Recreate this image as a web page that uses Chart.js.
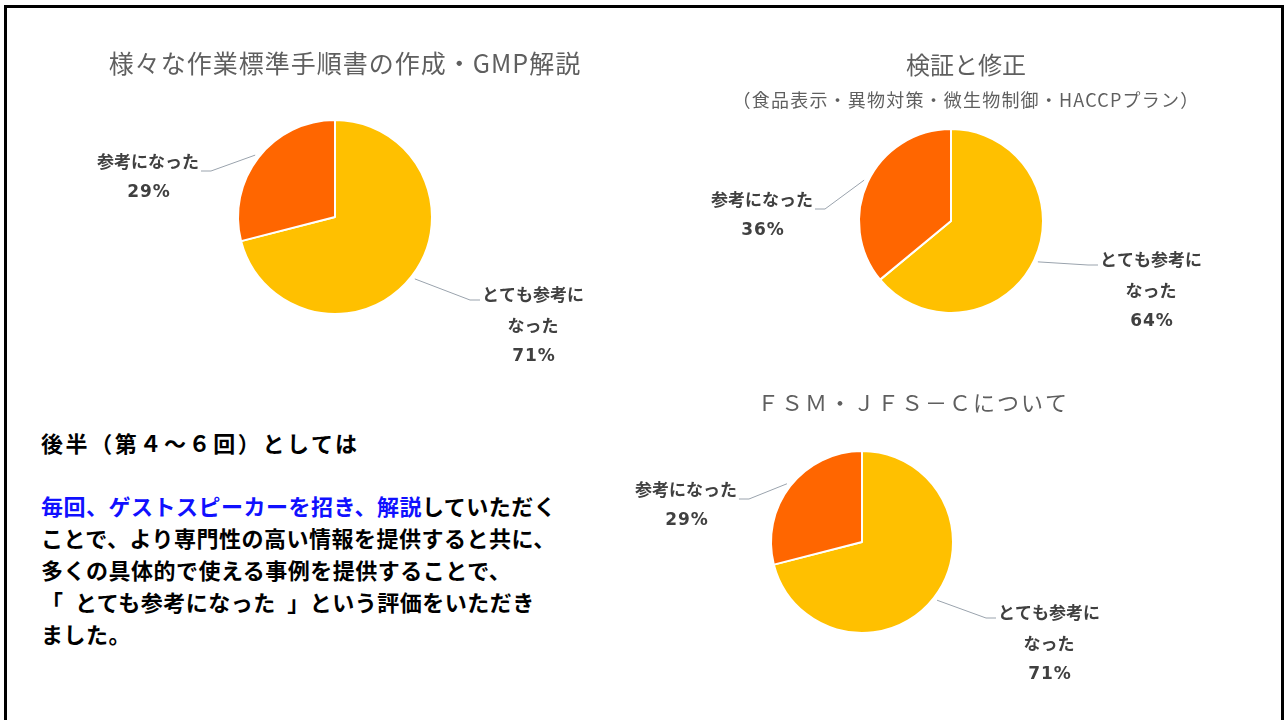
<!DOCTYPE html>
<html lang="ja">
<head>
<meta charset="utf-8">
<script src="https://cdn.jsdelivr.net/npm/chart.js@4.4.1/dist/chart.umd.min.js"></script>
<style>
  html, body { margin: 0; padding: 0; background: #fff; width: 1284px; height: 720px; overflow: hidden; }
  .frame { position: absolute; left: 4px; top: 5px; width: 1274px; height: 800px; border: 3px solid #000; border-bottom: none; }
  canvas { position: absolute; }
  .note { position: absolute; left: 41px; font-family: "Noto Sans CJK JP", sans-serif; font-weight: bold; font-size: 22px; color: #000; white-space: nowrap; }
  .head { top: 426px; line-height: 32px; letter-spacing: 2.6px; }
  .body { top: 489px; line-height: 32px; letter-spacing: 0.5px; }
  .blue { color: #1010ff; }
</style>
</head>
<body>
<div class="frame"></div>

<canvas id="pie1" width="560" height="400" style="left:55px; top:17px;"></canvas>
<canvas id="pie2" width="560" height="400" style="left:671px; top:21px;"></canvas>
<canvas id="pie3" width="560" height="360" style="left:582px; top:362px;"></canvas>

<div class="note head">後半（第４～６回）としては</div>
<div class="note body"><span class="blue">毎回、ゲストスピーカーを招き、解説</span>していただく<br>ことで、より専門性の高い情報を提供すると共に、<br>多くの具体的で使える事例を提供することで、<br>「&ensp;とても参考になった&ensp;」という評価をいただき<br>ました。</div>

<script>
// data
const categories = ['とても参考になった', '参考になった'];
const labelLines = [['とても参考に', 'なった'], ['参考になった']];
const sliceColors = ['#ffc000', '#ff6600'];

const gmpValues = [71, 29];     // 様々な作業標準手順書の作成・GMP解説
const verifyValues = [64, 36];  // 検証と修正
const fsmValues = [71, 29];     // ＦＳＭ・ＪＦＳ－Ｃについて

const gmpTitle = '様々な作業標準手順書の作成・GMP解説';
const verifyTitle = '検証と修正';
const verifySubtitle = '（食品表示・異物対策・微生物制御・HACCPプラン）';
const fsmTitle = 'ＦＳＭ・ＪＦＳ－Ｃについて';

// titles, data labels and leader lines
const pieLabels = {
  id: 'pieLabels',
  afterDraw(chart, args, opts) {
    const ctx = chart.ctx;
    const meta = chart.getDatasetMeta(0);
    const cx = meta.data[0].x, cy = meta.data[0].y;
    ctx.save();
    ctx.textAlign = 'center';
    ctx.textBaseline = 'middle';

    opts.titles.forEach(t => {
      ctx.font = t.font;
      ctx.letterSpacing = t.spacing + 'px';
      ctx.fillStyle = '#5f5f5f';
      ctx.fillText(t.text, cx + t.dx, cy + t.dy);
    });
    ctx.letterSpacing = '0px';

    const values = chart.data.datasets[0].data;
    meta.data.forEach((arc, i) => {
      const p = arc.getProps(['startAngle', 'endAngle', 'outerRadius'], true);
      const mid = (p.startAngle + p.endAngle) / 2;
      const pos = opts.positions[i];
      const lines = labelLines[i];
      const lx = cx + pos.dx, ly = cy + pos.dy;
      ctx.font = 'bold 17px "Noto Sans CJK JP"';
      const w = ctx.measureText(lines[0]).width;
      const right = pos.dx > 0;
      const edge = right ? lx - w / 2 - 2 : lx + w / 2 + 2;
      const sx = cx + Math.cos(mid) * (p.outerRadius + 4);
      const sy = cy + Math.sin(mid) * (p.outerRadius + 4);
      const ey = ly + (right ? 5 : 9);
      ctx.strokeStyle = '#9aa3ad';
      ctx.lineWidth = 1;
      ctx.beginPath();
      ctx.moveTo(sx, sy);
      ctx.lineTo(edge + (right ? -10 : 10), ey);
      ctx.lineTo(edge, ey);
      ctx.stroke();
      ctx.fillStyle = '#404040';
      lines.forEach((s, k) => ctx.fillText(s, lx, ly + k * 31));
      ctx.font = 'bold 17px "DejaVu Sans", "Noto Sans CJK JP"';
      ctx.letterSpacing = '1px';
      ctx.fillText(values[i] + '%', lx + 1, ly + lines.length * 31);
      ctx.letterSpacing = '0px';
    });
    ctx.restore();
  }
};

function makePie(id, values, radius, layout) {
  return new Chart(document.getElementById(id), {
    type: 'pie',
    data: {
      labels: categories,
      datasets: [{
        data: values,
        backgroundColor: sliceColors,
        borderColor: '#ffffff',
        borderWidth: 2,
        radius: radius
      }]
    },
    options: {
      responsive: false,
      animation: false,
      devicePixelRatio: 1,
      layout: { padding: 0 },
      plugins: {
        legend: { display: false },
        tooltip: { enabled: false },
        pieLabels: layout
      }
    },
    plugins: [pieLabels]
  });
}

makePie('pie1', gmpValues, 97, {
  titles: [{ text: gmpTitle, font: '25px "Noto Sans CJK JP"', spacing: 1, dx: 10, dy: -154 }],
  positions: [{ dx: 198, dy: 78 }, { dx: -187, dy: -55 }]
});

makePie('pie2', verifyValues, 92, {
  titles: [
    { text: verifyTitle, font: '24px "Noto Sans CJK JP"', spacing: 0, dx: 15, dy: -156 },
    { text: verifySubtitle, font: '18px "Noto Sans CJK JP"', spacing: 1.2, dx: 15, dy: -121 }
  ],
  positions: [{ dx: 200, dy: 39 }, { dx: -189, dy: -21 }]
});

makePie('pie3', fsmValues, 91, {
  titles: [{ text: fsmTitle, font: '22px "Noto Sans CJK JP"', spacing: 2, dx: 51, dy: -139 }],
  positions: [{ dx: 187, dy: 71 }, { dx: -176, dy: -52 }]
});
</script>
</body>
</html>
